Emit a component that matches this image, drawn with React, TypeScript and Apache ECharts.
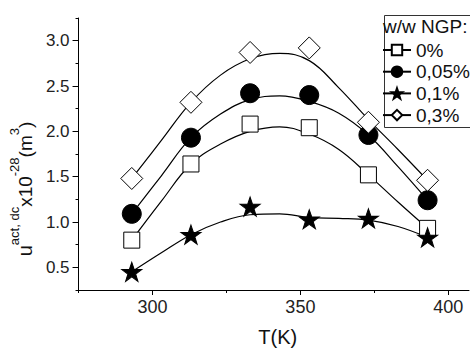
import React, { useEffect, useRef } from "react";
import * as echarts from "echarts";

// Measured points (T in K, u in 1e-28 m^3)
const dataT = [293, 313, 333, 353, 373, 393];
const pts0 = [0.8, 1.64, 2.08, 2.04, 1.52, 0.93];
const pts005 = [1.09, 1.93, 2.42, 2.4, 1.96, 1.24];
const pts01 = [0.45, 0.86, 1.17, 1.03, 1.04, 0.83];
const pts03 = [1.48, 2.32, 2.87, 2.92, 2.1, 1.46];

// Fitted curves
const curveT = [293, 303, 313, 323, 333, 343, 353, 363, 373, 383, 393];
const fit0 = [0.8, 1.23, 1.64, 1.86, 2.0, 2.05, 1.97, 1.8, 1.52, 1.22, 0.93];
const fit005 = [1.09, 1.51, 1.93, 2.19, 2.35, 2.39, 2.33, 2.2, 1.96, 1.61, 1.24];
const fit01 = [0.45, 0.66, 0.86, 1.0, 1.08, 1.09, 1.05, 1.04, 1.02, 0.95, 0.83];
const fit03 = [1.48, 1.9, 2.32, 2.62, 2.8, 2.86, 2.78, 2.48, 2.13, 1.8, 1.46];

const seriesNames = ["0%", "0,05%", "0,1%", "0,3%"];
const legendTitle = "w/w NGP:";

const xMajor = [300, 350, 400];
const xMinor = [275, 325, 375];
const yMajor = [0.5, 1.0, 1.5, 2.0, 2.5, 3.0];
const yMinor = [0.25, 0.75, 1.25, 1.75, 2.25, 2.75, 3.25];

const STAR =
  "path://M50,0L61.8,34.5L97.6,34.5L68.6,55.9L79.4,90.5L50,69.1L20.6,90.5L31.4,55.9L2.4,34.5L38.2,34.5Z";

const FONT = "'Liberation Sans', Arial, sans-serif";

export default function App() {
  const ref = useRef<HTMLDivElement>(null);

  useEffect(() => {
    const chart = echarts.init(ref.current!, null, { renderer: "svg" });

    const groups = [
      { name: seriesNames[0], fit: fit0, pts: pts0, symbol: "rect", size: 16, fill: "#ffffff" },
      { name: seriesNames[1], fit: fit005, pts: pts005, symbol: "circle", size: 19, fill: "#000000" },
      { name: seriesNames[2], fit: fit01, pts: pts01, symbol: STAR, size: [20, 19], fill: "#000000" },
      { name: seriesNames[3], fit: fit03, pts: pts03, symbol: "diamond", size: 22, fill: "#ffffff" },
    ];

    const series: any[] = [];
    groups.forEach((g) => {
      series.push({
        name: g.name,
        type: "line",
        data: curveT.map((t, i) => [t, g.fit[i]]),
        smooth: 0.4,
        showSymbol: false,
        symbol: g.symbol,
        itemStyle: { color: g.fill, borderColor: "#000", borderWidth: 1 },
        lineStyle: { color: "#000", width: 1.2 },
        silent: true,
        z: 2,
      });
    });
    groups.forEach((g) => {
      series.push({
        name: g.name + " pts",
        type: "scatter",
        data: dataT.map((t, i) => [t, g.pts[i]]),
        symbol: g.symbol,
        symbolSize: g.size,
        itemStyle: { color: g.fill, borderColor: "#000", borderWidth: 1, opacity: 1 },
        silent: true,
        z: 3,
      });
    });

    const axisCommon = {
      type: "value" as const,
      splitLine: { show: false },
    };

    chart.setOption({
      animation: false,
      backgroundColor: "#ffffff",
      grid: { left: 77, right: 1, top: 18, bottom: 54, containLabel: false },
      xAxis: [
        {
          ...axisCommon,
          min: 275,
          max: 407,
          position: "bottom",
          axisLine: { show: true, lineStyle: { color: "#000", width: 1 } },
          axisTick: { show: true, customValues: xMajor, length: 5, lineStyle: { color: "#000" } },
          axisLabel: {
            customValues: xMajor,
            color: "#222",
            fontSize: 18,
            fontFamily: FONT,
            margin: 8,
          },
          name: "T(K)",
          nameLocation: "middle",
          nameGap: 37,
          nameTextStyle: { fontSize: 20, color: "#111", fontFamily: FONT, padding: [0, 0, 0, 8] },
        },
        {
          ...axisCommon,
          min: 275,
          max: 407,
          position: "bottom",
          axisLine: { show: false },
          axisTick: { show: true, customValues: xMinor, length: 3, lineStyle: { color: "#000" } },
          axisLabel: { show: false },
        },
      ],
      yAxis: [
        {
          ...axisCommon,
          min: 0.25,
          max: 3.25,
          position: "left",
          axisLine: { show: true, lineStyle: { color: "#000", width: 1 } },
          axisTick: { show: true, customValues: yMajor, length: 6, lineStyle: { color: "#000" } },
          axisLabel: {
            customValues: yMajor,
            formatter: (v: number) => v.toFixed(1),
            color: "#222",
            fontSize: 17,
            fontFamily: FONT,
            margin: 9,
          },
          name: "{u|u}{s|act, dc}{m|x10}{s|-28}{m|(m}{s|3}{m|)}",
          nameLocation: "middle",
          nameRotate: 90,
          nameGap: 36,
          nameTextStyle: {
            fontFamily: FONT,
            color: "#111",
            padding: [0, 70, 0, 0],
            rich: {
              u: { fontSize: 20, fontFamily: FONT, color: "#111", verticalAlign: "bottom", lineHeight: 27 },
              m: { fontSize: 19, fontFamily: FONT, color: "#111", verticalAlign: "bottom", lineHeight: 27 },
              s: { fontSize: 13, fontFamily: FONT, color: "#111", verticalAlign: "top", lineHeight: 27 },
            },
          },
        },
        {
          ...axisCommon,
          min: 0.25,
          max: 3.25,
          position: "left",
          axisLine: { show: false },
          axisTick: { show: true, customValues: yMinor, length: 3, lineStyle: { color: "#000" } },
          axisLabel: { show: false },
        },
      ],
      legend: {
        data: seriesNames,
        orient: "vertical",
        left: 382,
        top: 40,
        padding: 0,
        itemWidth: 28,
        itemHeight: 13,
        itemGap: 1.7,
        selectedMode: false,
        textStyle: { fontSize: 19, lineHeight: 20, color: "#111", fontFamily: FONT },
      },
      graphic: [
        {
          type: "rect",
          left: 382,
          top: 13,
          shape: { width: 120, height: 112 },
          style: { fill: "none", stroke: "#333", lineWidth: 1 },
          z: 1,
        },
        {
          type: "text",
          left: 383,
          top: 17,
          style: { text: legendTitle, fontSize: 19, fontFamily: FONT, fill: "#111" },
          z: 5,
        },
      ],
      series,
    });

    return () => chart.dispose();
  }, []);

  return (
    <div
      ref={ref}
      style={{ position: "fixed", left: 0, top: 0, width: 470, height: 352, background: "#fff" }}
    />
  );
}
